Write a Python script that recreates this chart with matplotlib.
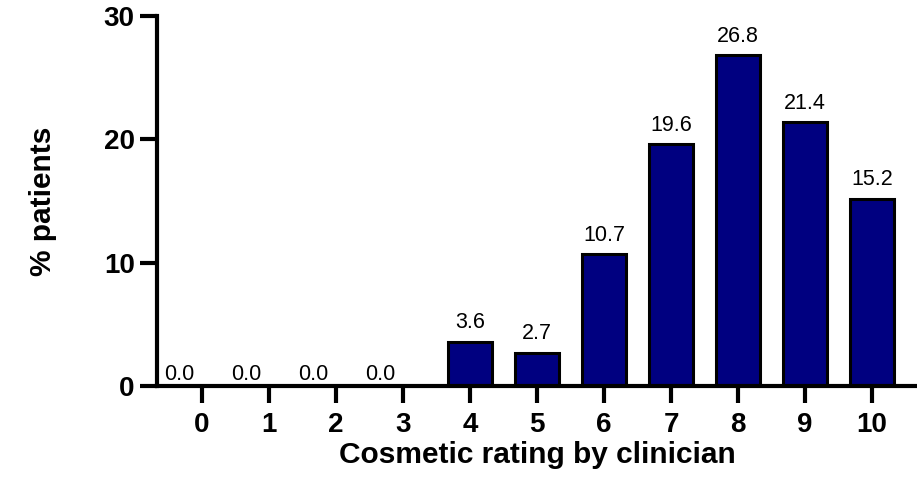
import matplotlib.pyplot as plt

# Data
ratings = [0, 1, 2, 3, 4, 5, 6, 7, 8, 9, 10]
percent = [0.0, 0.0, 0.0, 0.0, 3.6, 2.7, 10.7, 19.6, 26.8, 21.4, 15.2]
y_ticks = [0, 10, 20, 30]

plt.rcParams['font.family'] = ['Liberation Sans', 'DejaVu Sans']

fig = plt.figure(figsize=(9.17, 4.8), dpi=100)
ax = fig.add_axes([157 / 917, 94 / 480, 1 - 157 / 917, 370 / 480])

ax.bar(ratings, percent, width=0.65, color='#000080', edgecolor='black',
       linewidth=2.2, zorder=2)

# value labels above bars (zero labels sit left of the tick)
for x, v in zip(ratings, percent):
    if v == 0:
        ax.annotate(f'{v:.1f}', (x, v), xytext=(-16, 1), textcoords='offset points',
                    ha='center', va='bottom', fontsize=15.5)
    else:
        ax.annotate(f'{v:.1f}', (x, v), xytext=(0, 6), textcoords='offset points',
                    ha='center', va='bottom', fontsize=15.5)

ax.set_xlim(-0.67, 10.67)
ax.set_ylim(0, 30)
ax.set_xticks(ratings)
ax.set_yticks(y_ticks)

for side in ['top', 'right']:
    ax.spines[side].set_visible(False)
for side in ['left', 'bottom']:
    ax.spines[side].set_linewidth(3)
ax.spines['left'].set_capstyle('projecting')

ax.tick_params(axis='both', length=12, width=3, labelsize=20)
ax.tick_params(axis='x', pad=7)
ax.tick_params(axis='y', pad=4)
for lab in ax.get_xticklabels() + ax.get_yticklabels():
    lab.set_fontweight('bold')

ax.set_xlabel('Cosmetic rating by clinician', fontsize=21.5, fontweight='bold', labelpad=2)
ax.set_ylabel('% patients', fontsize=21.5, fontweight='bold', labelpad=34)

fig.savefig('out.png', dpi=100)
